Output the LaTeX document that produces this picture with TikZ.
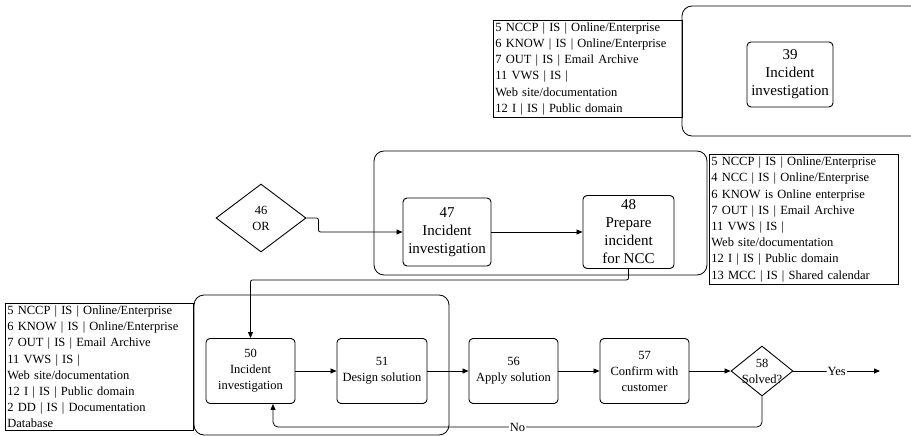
\documentclass[tikz,border=0pt]{standalone}
\usepackage{fontspec}
\setmainfont{Liberation Serif}
\usetikzlibrary{shapes.geometric,arrows.meta}

\tikzset{
  task/.style={draw, line width=0.9pt, rounded corners=4pt, align=center, inner sep=1pt,
    minimum width=89pt, minimum height=65pt, font=\fontsize{12.5}{16}\selectfont},
  bigtask/.style={task, font=\fontsize{15}{18}\selectfont},
  gate/.style={draw, diamond, aspect=1.3, line width=0.9pt, inner sep=-6pt, align=center,
    font=\fontsize{12.5}{16}\selectfont},
  infobox/.style={draw, line width=0.8pt, anchor=north west, align=left, inner sep=2pt,
    text width=184pt, font=\fontsize{12.5}{16.2}\selectfont},
  group/.style={draw, line width=0.8pt, rounded corners=10pt},
  flow/.style={line width=0.8pt, -{Triangle[length=6pt,width=5pt]}, rounded corners=2pt},
  lbl/.style={fill=white, inner sep=1pt, font=\fontsize{12.5}{16}\selectfont}
}

\begin{document}
\begin{tikzpicture}[x=1pt,y=-1pt]
  \useasboundingbox (0,0) rectangle (911,436);
  \clip (0,0) rectangle (911,436);

  % Groups
  \draw[group] (682,6) rectangle (940,136);
  \draw[group] (374,151) rectangle (707,275);
  \draw[group] (194,295) rectangle (449,435);

  % Resources
  \node[infobox, text width=185pt, minimum height=97pt] (res39) at (493,20)
    {5 NCCP | IS | Online/Enterprise\\6 KNOW | IS | Online/Enterprise\\7 OUT | IS | Email Archive\\
     11 VWS | IS |\\Web site/documentation\\12 I | IS | Public domain};
  \node[infobox, text width=185pt, minimum height=130pt] (res48) at (709,154)
    {5 NCCP | IS | Online/Enterprise\\4 NCC | IS | Online/Enterprise\\6 KNOW is Online enterprise\\
     7 OUT | IS | Email Archive\\11 VWS | IS |\\Web site/documentation\\12 I | IS | Public domain\\
     13 MCC | IS | Shared calendar};
  \node[infobox, minimum height=127pt] (res50) at (5,303)
    {5 NCCP | IS | Online/Enterprise\\6 KNOW | IS | Online/Enterprise\\7 OUT | IS | Email Archive\\
     11 VWS | IS |\\Web site/documentation\\12 I | IS | Public domain\\2 DD | IS | Documentation\\Database};

  % Steps
  \node[bigtask, minimum width=86pt] (b39) at (790,74.5) {39\\Incident\\investigation};
  \node[gate, minimum width=90pt, minimum height=68pt] (d46) at (261,218) {46\\OR};
  \node[bigtask, minimum width=88pt, minimum height=68pt] (b47) at (447,232) {47\\Incident\\investigation};
  \node[bigtask, minimum width=91pt, minimum height=73pt, inner sep=0pt] (b48) at (628.5,232) {48\\Prepare\\incident\\for NCC};
  \node[task] (b50) at (250.5,371) {50\\Incident\\investigation};
  \node[task, minimum width=90pt] (b51) at (382,371) {51\\Design solution};
  \node[task] (b56) at (513.5,371) {56\\Apply solution};
  \node[task] (b57) at (644.5,371) {57\\Confirm with\\customer};
  \node[gate, minimum width=62pt, minimum height=50pt] (d58) at (762,371) {58\\Solved?};

  % Flow
  \draw[flow] (d46.east) -- ++(12,0) |- (b47.west);
  \draw[flow] (b47.east) -- (b48.west);
  \draw[flow] (b48.south) -- ++(0,11) -| (b50.north);
  \draw[flow] (b50.east) -- (b51.west);
  \draw[flow] (b51.east) -- (b56.west);
  \draw[flow] (b56.east) -- (b57.west);
  \draw[flow] (b57.east) -- (d58.west);
  \coordinate (yesend) at (880,371);
  \draw[flow] (d58.east) -- node[lbl] {Yes} (yesend);
  \coordinate (noturn) at (273,427);
  \draw[flow, rounded corners=5pt] (d58.south) |- node[lbl, pos=0.75] {No} (noturn) -- (noturn |- b50.south);
\end{tikzpicture}
\end{document}
